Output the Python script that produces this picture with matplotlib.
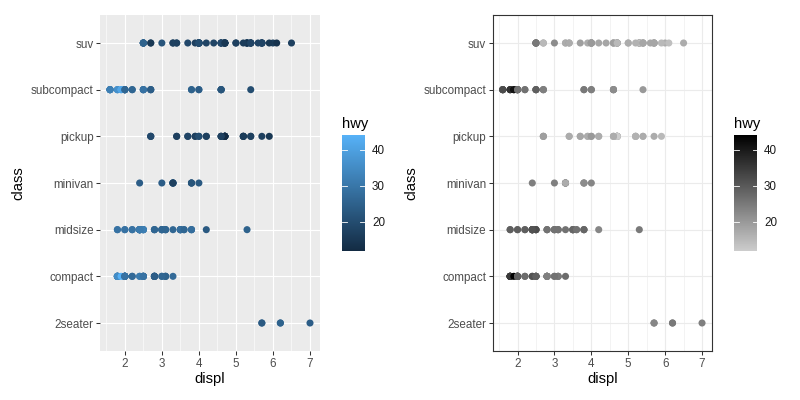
import matplotlib
matplotlib.use("Agg")
import matplotlib.pyplot as plt
from matplotlib.colors import LinearSegmentedColormap, Normalize
from matplotlib.ticker import MultipleLocator

plt.rcParams["font.family"] = ["Liberation Sans", "DejaVu Sans"]

classes = ["2seater", "compact", "midsize", "minivan", "pickup", "subcompact", "suv"]

# per-class (displ, hwy) in data order (mpg data)
displ_2seater = [5.7, 5.7, 6.2, 6.2, 7.0]
hwy_2seater = [26, 23, 26, 25, 24]

displ_compact = [1.8, 1.8, 2.0, 2.0, 2.8, 2.8, 3.1,
                 1.8, 1.8, 2.0, 2.0, 2.8, 2.8, 3.1, 3.1,
                 2.5, 2.5, 2.5, 2.5,
                 2.2, 2.2, 2.4, 2.4, 3.0, 3.0, 3.3,
                 1.8, 1.8, 1.8, 1.8, 1.8,
                 2.0, 2.0, 2.0, 2.0, 2.8,
                 1.9, 2.0, 2.0, 2.0, 2.0, 2.5, 2.5, 2.8, 2.8]
hwy_compact = [29, 29, 31, 30, 26, 26, 27,
               26, 25, 28, 27, 25, 25, 25, 25,
               26, 25, 27, 25,
               26, 27, 31, 31, 26, 26, 27,
               30, 33, 35, 37, 35,
               29, 29, 28, 29, 24,
               44, 29, 26, 29, 29, 29, 29, 23, 24]

displ_midsize = [2.8, 3.1, 4.2,
                 2.4, 2.4, 3.1, 3.5, 3.6,
                 2.4, 2.4, 2.5, 2.5, 2.4, 2.4, 3.3,
                 2.4, 2.4, 2.5, 2.5, 3.5, 3.5,
                 3.0, 3.0, 3.5,
                 3.1, 3.8, 3.8, 3.8, 5.3,
                 2.2, 2.2, 2.4, 2.4, 3.0, 3.0, 3.5,
                 1.8, 1.8, 2.0, 2.0, 2.8, 2.8, 3.6]
hwy_midsize = [24, 25, 23,
               27, 30, 26, 29, 26,
               26, 27, 26, 26, 30, 31, 26,
               29, 27, 31, 32, 27, 26,
               26, 25, 25,
               26, 26, 27, 28, 25,
               26, 29, 31, 31, 26, 26, 28,
               29, 29, 28, 29, 26, 26, 26]

displ_minivan = [2.4, 3.0, 3.3, 3.3, 3.3, 3.3, 3.3, 3.8, 3.8, 3.8, 4.0]
hwy_minivan = [24, 24, 22, 22, 24, 24, 17, 22, 21, 22, 23]

displ_pickup = [3.7, 3.7, 3.9, 3.9, 4.7, 4.7, 4.7, 5.2, 5.2,
                4.7, 4.7, 4.7, 4.7, 4.7, 4.7, 5.2, 5.2, 5.7, 5.9,
                4.2, 4.2, 4.6, 4.6, 4.6, 5.4, 5.4,
                2.7, 2.7, 2.7, 3.4, 3.4, 4.0, 4.0]
hwy_pickup = [19, 18, 17, 17, 19, 19, 12, 17, 15,
              16, 12, 17, 17, 16, 12, 15, 16, 17, 15,
              17, 17, 16, 16, 17, 15, 17,
              20, 20, 19, 17, 17, 20, 20]

displ_subcompact = [3.8, 3.8, 4.0, 4.0, 4.6, 4.6, 4.6, 4.6, 5.4,
                    1.6, 1.6, 1.6, 1.6, 1.6, 1.8, 1.8, 1.8, 2.0,
                    2.0, 2.0, 2.0, 2.0, 2.7, 2.7, 2.7,
                    2.2, 2.2, 2.5, 2.5,
                    1.9, 1.9, 2.0, 2.0, 2.5, 2.5]
hwy_subcompact = [26, 25, 26, 24, 21, 22, 23, 22, 20,
                  33, 32, 32, 29, 32, 34, 36, 36, 29,
                  26, 26, 28, 26, 24, 24, 24,
                  26, 26, 26, 26,
                  44, 41, 29, 26, 28, 29]

displ_suv = [5.3, 5.3, 5.3, 5.7, 6.0,
             5.3, 5.3, 5.7, 6.5,
             3.9, 4.7, 4.7, 4.7, 5.2, 5.7, 5.9,
             4.6, 5.4, 5.4,
             4.0, 4.0, 4.0, 4.0, 4.6, 5.0,
             3.0, 3.7, 4.0, 4.7, 4.7, 4.7, 5.7, 6.1,
             4.0, 4.2, 4.4, 4.6,
             5.4, 5.4, 5.4,
             4.0, 4.0, 4.6, 5.0,
             3.3, 3.3, 4.0, 5.6,
             2.5, 2.5, 2.5, 2.5, 2.5, 2.5,
             2.7, 2.7, 3.4, 3.4, 4.0, 4.7,
             4.7, 5.7]
hwy_suv = [20, 15, 20, 17, 17,
           19, 14, 15, 17,
           17, 17, 12, 17, 16, 18, 15,
           17, 17, 18,
           17, 19, 17, 19, 19, 17,
           22, 19, 20, 17, 12, 19, 18, 14,
           15, 18, 18, 15,
           17, 16, 18,
           17, 19, 19, 17,
           17, 17, 20, 18,
           25, 24, 27, 23, 26, 25,
           20, 15, 20, 17, 20, 19,
           15, 18]

displ_by_class = [displ_2seater, displ_compact, displ_midsize, displ_minivan,
                  displ_pickup, displ_subcompact, displ_suv]
hwy_by_class = [hwy_2seater, hwy_compact, hwy_midsize, hwy_minivan,
                hwy_pickup, hwy_subcompact, hwy_suv]

hwy_min, hwy_max = 12, 44
cbar_ticks = [20, 30, 40]

blue_map = LinearSegmentedColormap.from_list("gg_blue", ["#132B43", "#56B1F7"])
grey_map = LinearSegmentedColormap.from_list("gg_grey", ["#CCCCCC", "#000000"])
norm = Normalize(hwy_min, hwy_max)

fig = plt.figure(figsize=(8, 4), dpi=100)

panels = [
    # axes rect, colorbar rect, cmap, theme
    ([0.125, 0.1225, 0.275, 0.84], [0.4275, 0.373, 0.0288, 0.289], blue_map, "grey"),
    ([0.616, 0.1225, 0.274, 0.84], [0.918, 0.373, 0.0283, 0.289], grey_map, "bw"),
]

for rect, crect, cmap, theme in panels:
    ax = fig.add_axes(rect)
    for i, (xs, hs) in enumerate(zip(displ_by_class, hwy_by_class)):
        ax.scatter(xs, [i] * len(xs), c=hs, cmap=cmap, norm=norm, s=26,
                   linewidths=0, zorder=3)

    ax.set_xlim(1.33, 7.27)
    ax.set_ylim(-0.6, len(classes) - 0.4)
    ax.set_yticks(range(len(classes)))
    ax.set_yticklabels(classes)
    ax.xaxis.set_major_locator(MultipleLocator(1))
    ax.xaxis.set_minor_locator(MultipleLocator(0.5))
    ax.tick_params(which="major", length=2.7, width=0.75, color="#333333",
                   labelsize=8.4, labelcolor="#4D4D4D", pad=2)
    ax.tick_params(which="minor", length=0)
    ax.set_xlabel("displ", fontsize=10.6, labelpad=2)
    ax.set_ylabel("class", fontsize=10.6, labelpad=4)

    if theme == "grey":
        ax.set_facecolor("#EBEBEB")
        grid_col = "white"
        for sp in ax.spines.values():
            sp.set_visible(False)
    else:
        ax.set_facecolor("white")
        grid_col = "#EBEBEB"
        for sp in ax.spines.values():
            sp.set_color("#333333")
            sp.set_linewidth(0.8)
    ax.grid(which="major", color=grid_col, linewidth=0.8, zorder=0)
    ax.grid(which="minor", axis="x", color=grid_col, linewidth=0.4, zorder=0)
    ax.set_axisbelow(True)

    cax = fig.add_axes(crect)
    cb = fig.colorbar(plt.cm.ScalarMappable(norm=norm, cmap=cmap), cax=cax,
                      ticks=cbar_ticks)
    cb.outline.set_visible(False)
    cax.tick_params(length=0, labelsize=8.4, labelcolor="#1A1A1A", pad=5)
    for t in cbar_ticks:
        cax.plot([0, 0.2], [t, t], color="white", linewidth=0.6,
                 transform=cax.get_yaxis_transform())
        cax.plot([0.8, 1], [t, t], color="white", linewidth=0.6,
                 transform=cax.get_yaxis_transform())
    cax.set_title("hwy", loc="left", fontsize=10.6, pad=5)

fig.savefig("out.png", dpi=100)
